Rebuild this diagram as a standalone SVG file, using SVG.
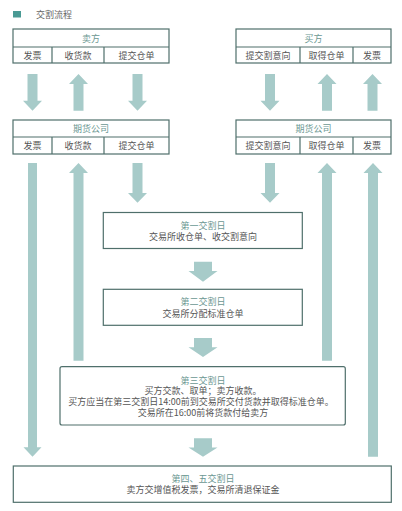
<svg xmlns="http://www.w3.org/2000/svg" width="402" height="511" viewBox="0 0 402 511">
<style>
.box{fill:#fff;stroke:#4f6f6b;stroke-width:1.2}
.ln{stroke:#4f6f6b;stroke-width:1.2;fill:none}
.arr{fill:#a7cbc9}
text{font-family:"Noto Sans CJK SC","Noto Sans",sans-serif;font-size:9px;text-anchor:middle;dominant-baseline:central}
.hd{fill:#6b9792}
.tx{fill:#555}
.tt{fill:#666;text-anchor:start}
</style>
<rect width="402" height="511" fill="#fff"/>
<g id="title">
<rect x="13" y="11" width="8" height="6.5" fill="#4a9a94"/>
<text class="tt" x="36" y="14">交割流程</text>
</g>
<g id="seller">
<rect class="box" x="13" y="29" width="156" height="34"/>
<path class="ln" d="M13 47H169M52 47V63M104 47V63"/>
<text class="hd" x="91" y="38">卖方</text>
<text class="tx" x="32.5" y="55.5">发票</text>
<text class="tx" x="78" y="55.5">收货款</text>
<text class="tx" x="136.5" y="55.5">提交仓单</text>
</g>
<g id="buyer">
<rect class="box" x="236" y="29" width="155" height="34"/>
<path class="ln" d="M236 47H391M300 47V63M353 47V63"/>
<text class="hd" x="313.5" y="38">买方</text>
<text class="tx" x="268" y="55.5">提交割意向</text>
<text class="tx" x="326.5" y="55.5">取得仓单</text>
<text class="tx" x="372" y="55.5">发票</text>
</g>
<g id="futures-left">
<rect class="box" x="13" y="120" width="156" height="34"/>
<path class="ln" d="M13 137H169M52 137V154M104 137V154"/>
<text class="hd" x="91" y="128.5">期货公司</text>
<text class="tx" x="32.5" y="145.5">发票</text>
<text class="tx" x="78" y="145.5">收货款</text>
<text class="tx" x="136.5" y="145.5">提交仓单</text>
</g>
<g id="futures-right">
<rect class="box" x="236" y="120" width="155" height="34"/>
<path class="ln" d="M236 137H391M300 137V154M353 137V154"/>
<text class="hd" x="313.5" y="128.5">期货公司</text>
<text class="tx" x="268" y="145.5">提交割意向</text>
<text class="tx" x="326.5" y="145.5">取得仓单</text>
<text class="tx" x="372" y="145.5">发票</text>
</g>
<g id="day1">
<rect class="box" x="103.3" y="212.5" width="199" height="36"/>
<text class="hd" x="203" y="225">第一交割日</text>
<text class="tx" x="203" y="236.5">交易所收仓单、收交割意向</text>
</g>
<g id="day2">
<rect class="box" x="103.3" y="289.3" width="199" height="36"/>
<text class="hd" x="203" y="301.7">第二交割日</text>
<text class="tx" x="203" y="313.3">交易所分配标准仓单</text>
</g>
<g id="day3">
<rect class="box" x="60" y="366.7" width="285.3" height="58.3" rx="2"/>
<text class="hd" x="203" y="380">第三交割日</text>
<text class="tx" x="203" y="390.8">买方交款、取单；卖方收款。</text>
<text class="tx" x="201" y="401.7">买方应当在第三交割日14:00前到交易所交付货款并取得标准仓单。</text>
<text class="tx" x="203" y="412.7">交易所在16:00前将货款付给卖方</text>
</g>
<g id="day45">
<rect class="box" x="13.3" y="466" width="378" height="36.3"/>
<text class="hd" x="203" y="478.3">第四、五交割日</text>
<text class="tx" x="203" y="489.5">卖方交增值税发票，交易所清退保证金</text>
</g>
<g id="connectors" class="arr">
<path d="M27.5 74H37.5V100.7H42L32.5 110.7L23 100.7H27.5Z"/>
<path d="M73.5 110.7V84H69L78.5 74L88 84H83.5V110.7Z"/>
<path d="M132.5 74H142.5V100.7H147L137.5 110.7L128 100.7H132.5Z"/>
<path d="M265 74H275V100.7H279.5L270 110.7L260.5 100.7H265Z"/>
<path d="M322 110.7V84H317.5L327 74L336.5 84H332V110.7Z"/>
<path d="M367.5 110.7V84H363L372.5 74L382 84H377.5V110.7Z"/>
<path d="M28 163H37V447.3H41.5L32.5 456.7L23.5 447.3H28Z"/>
<path d="M73.5 360.7V173H69L78.5 163L88 173H83.5V360.7Z"/>
<path d="M132.5 163H142.5V193H147L137.5 202.7L128 193H132.5Z"/>
<path d="M265 163H275V193H279.5L270 202.7L260.5 193H265Z"/>
<path d="M322 360.7V173H317.5L327 163L336.5 173H332V360.7Z"/>
<path d="M368 456.7V173H363.5L373 163L382.5 173H378V456.7Z"/>
<path d="M194 261.7H212V271H217.5L203 281.7L188.5 271H194Z"/>
<path d="M194 338H212V347.3H217.5L203 357L188.5 347.3H194Z"/>
<path d="M194 438.3H212V447.5H217.5L203 456.7L188.5 447.5H194Z"/>
</g>
</svg>
